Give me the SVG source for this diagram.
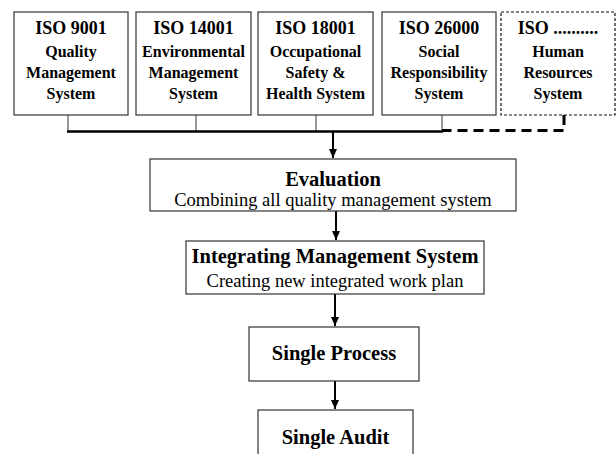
<svg xmlns="http://www.w3.org/2000/svg" width="616" height="454" viewBox="0 0 616 454">
<defs>
<style>
.box{fill:#fff;stroke:#333;stroke-width:1.2}
.dbox{fill:#fff;stroke:#111;stroke-width:1.2;stroke-dasharray:3 2}
.t{font-family:"Liberation Serif","Times New Roman",serif;text-anchor:middle;fill:#000}
.h{font-size:18px;font-weight:bold}
.s{font-size:16px;font-weight:bold}
.b{font-size:20.5px;font-weight:bold}
.r{font-size:18.5px}
.stem{stroke:#555;stroke-width:1.2;fill:none}
.arr{stroke:#000;stroke-width:2;fill:none;marker-end:url(#ah)}
</style>
<marker id="ah" markerWidth="9" markerHeight="8" refX="9" refY="4" orient="auto" markerUnits="userSpaceOnUse" viewBox="0 0 9 8">
<path d="M0,0 L9,4 L0,8 Z" fill="#000"/>
</marker>
</defs>
<g id="connectors">
<line class="stem" x1="68" y1="115" x2="68" y2="131"/>
<line class="stem" x1="196" y1="115" x2="196" y2="131"/>
<line class="stem" x1="316" y1="115" x2="316" y2="131"/>
<line class="stem" x1="442" y1="115" x2="442" y2="131"/>
<line x1="67" y1="131.5" x2="443" y2="131.5" stroke="#000" stroke-width="2.5"/>
<polyline points="564,115 564,130.5 442,130.5" fill="none" stroke="#000" stroke-width="3" stroke-dasharray="10 6"/>
<line class="arr" x1="333" y1="132" x2="333" y2="158"/>
<line class="arr" x1="336" y1="211" x2="336" y2="240"/>
<line class="arr" x1="335" y1="294" x2="335" y2="326"/>
<line class="arr" x1="335" y1="381" x2="335" y2="409"/>
</g>
<g id="iso9001">
<rect class="box" x="14" y="12" width="114" height="103"/>
<text class="t h" x="71" y="34">ISO 9001</text>
<text class="t s" x="71" y="57">Quality</text>
<text class="t s" x="71" y="78">Management</text>
<text class="t s" x="71" y="99">System</text>
</g>
<g id="iso14001">
<rect class="box" x="136" y="12" width="115" height="103"/>
<text class="t h" x="193.5" y="34">ISO 14001</text>
<text class="t s" x="193.5" y="57">Environmental</text>
<text class="t s" x="193.5" y="78">Management</text>
<text class="t s" x="193.5" y="99">System</text>
</g>
<g id="iso18001">
<rect class="box" x="258" y="12" width="115" height="103"/>
<text class="t h" x="315.5" y="34">ISO 18001</text>
<text class="t s" x="315.5" y="57">Occupational</text>
<text class="t s" x="315.5" y="78">Safety &amp;</text>
<text class="t s" x="315.5" y="99">Health System</text>
</g>
<g id="iso26000">
<rect class="box" x="382" y="12" width="114" height="103"/>
<text class="t h" x="439" y="34">ISO 26000</text>
<text class="t s" x="439" y="57">Social</text>
<text class="t s" x="439" y="78">Responsibility</text>
<text class="t s" x="439" y="99">System</text>
</g>
<g id="isohr">
<rect class="dbox" x="501" y="12" width="114" height="103"/>
<text class="t h" x="558" y="34">ISO ..........</text>
<text class="t s" x="558" y="57">Human</text>
<text class="t s" x="558" y="78">Resources</text>
<text class="t s" x="558" y="99">System</text>
</g>
<g id="evaluation">
<rect class="box" x="150" y="159" width="366" height="52"/>
<text class="t b" x="333" y="186">Evaluation</text>
<text class="t r" x="333" y="206">Combining all quality management system</text>
</g>
<g id="integrating">
<rect class="box" x="186" y="241" width="298" height="53"/>
<text class="t b" x="335" y="263">Integrating Management System</text>
<text class="t r" x="335" y="287">Creating new integrated work plan</text>
</g>
<g id="single-process">
<rect class="box" x="249" y="327" width="170" height="54"/>
<text class="t b" x="334" y="360">Single Process</text>
</g>
<g id="single-audit">
<rect class="box" x="258" y="410" width="155" height="60"/>
<text class="t b" x="335.5" y="444">Single Audit</text>
</g>
</svg>
